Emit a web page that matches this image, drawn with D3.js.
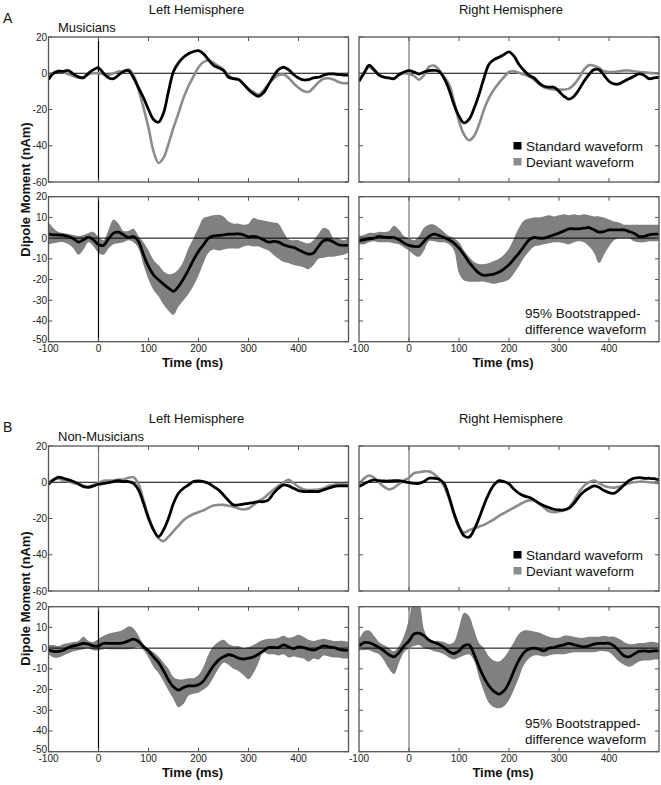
<!DOCTYPE html>
<html><head><meta charset="utf-8">
<script src="https://cdn.jsdelivr.net/npm/d3@7"></script>
<style>body{margin:0;background:#fff} text{font-family:Arial,"Liberation Sans",sans-serif}</style>
</head><body>
<svg id="c" width="661" height="785"></svg>
<script>
// ---------- DATA ----------
const time = d3.range(-100, 501, 10);
const xTickLabels = [-100, 0, 100, 200, 300, 400];
const xTickMarks = [0, 100, 200, 300, 400];
const yTicksWave = [20, 0, -20, -40, -60];
const yTicksDiff = [20, 10, 0, -10, -20, -30, -40, -50];

// A: Musicians
const aLeftStd = [-3.5,0,1,1,1.5,-0.5,-2,-2.5,0,2, 3,0,-2.5,-3,-1,1,1.5,-2.5,-8,-13.5, -20,-25.5,-27,-22,-10,1,5.7,8.8,10.8,12, 12.5,10.7,7.5,4.4,3,1.5,-2.2,-3,-3.5,-5.9, -9,-11.4,-12.7,-10.8,-6.3,-1.7,2,3.3,2,-0.7, -2.6,-3.7,-3.5,-2.5,-2.2,-1.1,-0.4,-0.4,-0.7,-1, -1];
const aLeftDev = [-2,0,1.5,0.5,-0.5,-1.5,-2.5,-2,-0.5,0, 0,-0.5,-1,0,1,1,2,-1,-9,-19, -30,-43,-49.5,-46.7,-39,-30,-22,-13.6,-7,-1.7, 3.3,6.2,7,5.7,3.9,2,-1.1,-3,-3.5,-6, -8.5,-10.3,-11.8,-9.5,-6,-3,-1,-0.7,-2.5,-5.5, -8,-9.8,-10.3,-8,-5,-3,-2.8,-3.5,-4.8,-5.5, -5.5];
const aRightStd = [-4.4,0,4.4,2,-1,-2.2,-2.6,-3,-0.7,0.7, 1.5,0.7,-0.4,0.7,1.5,1.6,1,-2.6,-9,-17.3, -23.7,-27.4,-25.5,-19.5,-11.8,-2.6,5,7.5,8.8,10.3, 11.8,9.4,4.8,1.5,-1.1,-2.6,-5.3,-7.2,-7.7,-7.7, -10,-12.7,-14.3,-12.7,-9,-4.4,-0.7,2,2,-1.1, -4.4,-5.9,-5.9,-4.4,-3,-1.7,-0.4,-1.1,-3,-2.6, -2.2];
const aRightDev = [-3,0,3.5,1.5,-1,-2,-2.5,-3,-1,0, -0.4,-1.5,-3.5,-1,3.5,4.2,2,-2,-6,-15.5, -26.5,-33.8,-37,-34.7,-28.3,-20,-13.6,-9,-5.3,-2.2, 0.7,1.1,0.2,-0.7,-1.7,-3.5,-5.9,-7.7,-8.5,-9, -9,-9,-8.5,-6.2,-2.6,2,4.4,4.2,2.9,1.1, 0.7,0.7,1.1,1.5,1.5,1.1,0.7,0.5,0.2,0, 0];
const aLeftDiff = [1.9,1.6,1.6,1.3,0.8,-0.3,-1.9,-0.8,0.5,-0.8, -3.2,-3.5,-0.3,2.4,2.9,1.6,0.3,0.8,-1.6,-8, -13.7,-17.7,-20.1,-22.2,-24.1,-25.7,-23.3,-19.6,-15.3,-10.5, -6.4,-3.2,0,1.1,1.3,1.6,1.9,1.9,2.1,1.6, 0.6,0.8,0.3,-0.8,-1.9,-1.6,-1.9,-3.2,-4,-4.5, -5.6,-6.8,-7.7,-7.2,-4,-1.3,-0.8,-1.9,-3.2,-3.5, -3.5];
const aLeftHi = [7.7,4.8,3,2.5,2,1.5,1,1.5,2.5,3, 0.5,-1,4,9,7,3.5,3.5,4.5,1,-2, -6,-10.5,-13,-16,-17.4,-17,-15,-11,-4.8,0, 5.1,9.7,10.5,11,11.3,10.5,8,7,7,6.5, 7,9.7,9,8.5,8,7.5,7,3,-0.5,-1, -1,-2,-2.5,-1,2,5,4,0,0,-1, 0];
const aLeftLo = [-3,-2.5,-2,-2,-3,-5,-8,-5.5,-2,-4, -7,-8,-5,-3,-2.5,-2,-1,-2,-5,-13, -20,-25,-28,-32,-35,-37,-33,-30,-27,-23, -18,-12,-7,-5.5,-6,-5.5,-5,-5,-5,-4, -3.5,-4,-4,-5,-6,-8,-10,-11.5,-12,-13, -13.5,-14,-15,-13,-10,-9.5,-9,-9,-8.5,-8, -7];
const aRightDiff = [-1.3,-0.8,-0.3,0,0.8,0.5,0.3,0.3,-0.8,-2.4, -3.5,-4,-4,-1.6,0.8,1.9,1.3,0.3,-0.8,-2.4, -4.8,-8,-11.6,-14.5,-16.9,-18,-17.7,-17.4,-16.4,-14.8, -12.9,-10,-7.2,-4,-0.8,0.3,0,0,0.8,1.6, 2.4,3.5,4.5,4.5,4.5,4.8,5.1,4,2.9,3.2, 4,4,4,4,3.2,2.4,0.8,0.8,1.6,1.9, 1.9];
const aRightHi = [1,1.5,2.5,2.5,3,3,3.5,6,4,1, 0,-1,1,5,6.5,6.5,5,3,1,0, -2,-6,-9,-11.5,-12.5,-12.5,-12,-11,-10,-8, -5,0,5,8.5,9.5,10,10,10.5,11,10.5, 11,11.5,11,11.5,11,11.5,11,10.5,10.5,10, 9,8,7.5,6.5,6.5,6.5,6.5,6.5,6.5,6.5, 6.5];
const aRightLo = [-3,-3,-2,-1.5,-2,-2,-2,-2.5,-3,-4.5, -6,-8,-9,-6,-1.5,-1.5,-2,-2,-3,-6, -17,-20.5,-21,-21,-21,-21,-21.5,-22,-21.5,-21, -20,-17,-13.5,-9.5,-6.5,-4,-3.5,-3,-2.5,-2, -2,-2.5,-3,-2,-1.5,-2,-4,-7,-12,-8, -4,-1,0,0,0,-1.5,-2,-2,-1.5,-1.5, -1.5];

// B: Non-Musicians
const bLeftStd = [-1.1,1.3,2.8,2.2,1.3,0.4,-0.9,-2.4,-2.8,-2, -1.1,-0.6,-0.2,0.4,0.9,0.4,0.4,-0.6,-4.2,-11.6, -19.9,-26.3,-30,-26.3,-19.9,-11.6,-6.1,-3.3,-1.5,0.4, 0.7,0.4,-0.6,-2.4,-4.2,-7,-10.1,-12.5,-12.5,-12.1, -11.6,-11.2,-10.7,-10.7,-9.7,-6.1,-3.3,-1.5,-2,-3.3, -4.6,-5.1,-5.1,-5.1,-5.1,-4.2,-3.3,-2.4,-2,-2, -2];
const bLeftDev = [-0.5,1.5,2,1,0.5,-0.5,-1,-2,-2.5,-1.5, -0.5,0.8,1,1,1.5,1.5,2.5,2.8,-1,-10, -19,-26,-31,-32.5,-30,-27,-24,-21,-19,-17.5, -16.5,-15.5,-14,-12.8,-12.5,-12.5,-13,-13.5,-14.5,-15, -14.5,-12.5,-10.5,-8.8,-6.5,-4.2,-2,-0.2,1.3,-0.5, -2.5,-3.9,-4.3,-4.2,-4,-3.3,-2,-1.5,-1,-1, -1.5];
const bRightStd = [-2.4,-0.9,0.4,1.3,0.9,0.7,0.7,0.9,0.9,0.4, -0.2,-0.6,-0.6,0.4,2.2,2.2,1.7,-0.6,-7.9,-17.1, -24.4,-29.5,-30.3,-26.3,-19.9,-12.5,-6.1,-1.5,0.9,0.4, -0.9,-3.9,-6.1,-7.5,-8.3,-9.7,-11.6,-13,-14,-14.9, -15.3,-15.3,-14.3,-11.6,-7.9,-5.1,-3.3,-2,-2.8,-4.6, -5.7,-6.1,-4.2,-1.5,0.9,2.2,2.6,2.2,2.2,2, 1.3];
const bRightDev = [-1,2,3.7,2.5,0,-2.5,-3.9,-3,-1,1, 2.5,5,5.5,6,6,4.5,2,-2,-9,-18, -25,-27.8,-26.5,-25.5,-24.5,-23.5,-22,-20.5,-18.5,-17, -15.5,-14,-12.5,-11,-10,-10,-11.5,-14,-16,-16.5, -16,-15.5,-14,-10,-5.5,-2,0,0.9,-0.5,-2, -2.8,-3,-2.5,-1.5,-0.5,0,0.3,0.3,0,-0.2, -0.5];
const bLeftDiff = [-1,-1.6,-1.6,-1,0.3,1.1,1.6,2.3,1.9,1.1, 1.1,2.3,2.3,2.3,2.3,2.6,3.5,4.3,3.2,0.8, -1.3,-4.2,-6.9,-10.9,-15.4,-18.7,-20.3,-19,-18.2,-18.2, -17.7,-15.8,-12.2,-8.5,-5.8,-4.2,-3.2,-3.7,-4.8,-5.3, -4.8,-4.2,-2.9,-1.3,0.3,0.3,0.3,1.6,0.6,-0.2, 0.6,0.3,-0.5,-1,0,1.1,0.6,0.3,-0.5,-1, -1];
const bLeftHi = [1.5,1.5,1,2,2.5,3,3.5,5.5,3.5,3, 4.5,6,7,7.5,8,9,10.5,9.5,6,1.8, -0.3,-2,-4,-7,-10,-14,-15,-15,-14.5,-14.5, -13,-9,-3,1,3,4,2,1,1,0, 0.5,1.5,3,4,4.5,4.5,5,6,5,5.5, 6.5,5.5,4,3.5,4,4.5,4,3.5,3.5,3.5, 3];
const bLeftLo = [-3,-4.5,-4.5,-3.5,-2.5,-1.5,-1,-0.5,0,-1, -1,-0.5,-0.5,-0.5,-0.5,-0.5,-0.5,0,0.5,-1, -4.5,-9,-12,-16,-20.5,-24.5,-28.5,-27,-23,-22, -21.5,-20,-18,-14,-10,-7,-8,-10,-11,-13, -15,-12,-7,-2,-3,-3,-3.5,-3,-4.5,-4, -4.5,-5,-6.5,-5,-5.5,-3.5,-4,-4.5,-4.5,-5, -5];
const bRightDiff = [1.1,2.7,2.6,1.6,0.3,-1.3,-3.2,-4.2,-2.1,1.1, 3.5,6.8,7.2,6,3.9,2.7,1.9,0.3,-1.6,-2.6, -1.3,1.1,1.6,-2.9,-9,-14.2,-18.2,-20.9,-22.2,-20.6, -16.6,-10.9,-5.8,-2.1,-0.5,0,-0.5,-1.3,0,0.3, 1.1,1.6,2.3,1.6,1.1,0.6,1.1,1.9,2.3,2.3, 2.3,1.1,-1.3,-3.7,-4.2,-2.9,-1.6,-1.3,-1.6,-1.3, -1.3];
const bRightHi = [4,8,8.5,6,3,1.5,0,-1.5,1,6, 14,24,22,9,4,3.5,3.5,3,2,3, 10,17,15.5,9,2.5,0,-4,-6,-6.5,-4.5, -1,3,7,8.5,8.5,8,7.5,6.5,5.5,5, 5,6,6,5.5,5,5,5.5,5.5,5.5,6, 5.5,5.5,4.5,3,2,2,2.5,2.5,3,3, 2.5];
const bRightLo = [-1,-1,-1,-2,-3,-6,-10,-12.5,-7,-2, 0,1,1.5,0,-0.5,-1.5,-2,-3,-4.5,-5.5, -4.5,-3.5,-3,-6,-14,-21,-26.5,-28.5,-29,-28, -25,-20,-14,-8,-5,-3.5,-3.5,-4,-3.5,-3, -3,-3,-2.5,-2,-2,-2,-2,-2,-1.5,-1.5, -2,-4,-6.5,-8,-9,-8,-6.5,-6,-6,-5.5, -5.5];

const legendLabels = ["Standard waveform", "Deviant waveform"];
const diffLabel = ["95% Bootstrapped-", "difference waveform"];

// ---------- LAYOUT ----------
const svg = d3.select("#c");
const cols = [[48.5, 348.5], [359, 659]];
const rows = { A: [[37, 182], [196.7, 341.7]], B: [[446, 591], [606.7, 751.7]] };
const BLACK = "#000", GRAY = "#8c8c8c", BAND = "#808080", FRAME = "#555";

const panels = [
  { g: "A", r: 0, c: 0, type: "wave", std: aLeftStd, dev: aLeftDev, vline: "#000" },
  { g: "A", r: 0, c: 1, type: "wave", std: aRightStd, dev: aRightDev, vline: "#777", legend: true },
  { g: "A", r: 1, c: 0, type: "diff", m: aLeftDiff, hi: aLeftHi, lo: aLeftLo, vline: "#000" },
  { g: "A", r: 1, c: 1, type: "diff", m: aRightDiff, hi: aRightHi, lo: aRightLo, vline: "#777", note: true },
  { g: "B", r: 0, c: 0, type: "wave", std: bLeftStd, dev: bLeftDev, vline: "#777" },
  { g: "B", r: 0, c: 1, type: "wave", std: bRightStd, dev: bRightDev, vline: "#777", legend: true },
  { g: "B", r: 1, c: 0, type: "diff", m: bLeftDiff, hi: bLeftHi, lo: bLeftLo, vline: "#000" },
  { g: "B", r: 1, c: 1, type: "diff", m: bRightDiff, hi: bRightHi, lo: bRightLo, vline: "#777", note: true },
];

const defs = svg.append("defs");
panels.forEach((p, i) => {
  const [x0, x1] = cols[p.c];
  const [y0, y1] = rows[p.g][p.r];
  const x = d3.scaleLinear().domain([-100, 500]).range([x0, x1]);
  const y = d3.scaleLinear().domain(p.type === "wave" ? [-60, 20] : [-50, 20]).range([y1, y0]);
  const yt = p.type === "wave" ? yTicksWave : yTicksDiff;
  const cid = "clip" + i;
  defs.append("clipPath").attr("id", cid).append("rect")
    .attr("x", x0).attr("y", y0).attr("width", x1 - x0).attr("height", y1 - y0);
  const g = svg.append("g");
  const plot = g.append("g").attr("clip-path", `url(#${cid})`);

  const line = arr => d3.line().x((d, k) => x(time[k])).y(d => y(d)).curve(d3.curveCatmullRom)(arr);

  if (p.type === "diff") {
    const area = d3.area().x((d, k) => x(time[k])).y0((d, k) => y(p.lo[k])).y1((d, k) => y(p.hi[k])).curve(d3.curveCatmullRom);
    plot.append("path").attr("d", area(p.m)).attr("fill", BAND);
  }
  // zero lines
  plot.append("line").attr("x1", x0).attr("x2", x1).attr("y1", y(0)).attr("y2", y(0)).attr("stroke", "#000").attr("stroke-width", 1);
  plot.append("line").attr("x1", x(0)).attr("x2", x(0)).attr("y1", y0).attr("y2", y1).attr("stroke", p.vline).attr("stroke-width", 1.2);

  if (p.type === "wave") {
    plot.append("path").attr("d", line(p.dev)).attr("fill", "none").attr("stroke", GRAY).attr("stroke-width", 2.6).attr("stroke-linejoin", "round");
    plot.append("path").attr("d", line(p.std)).attr("fill", "none").attr("stroke", BLACK).attr("stroke-width", 2.8).attr("stroke-linejoin", "round");
  } else {
    plot.append("path").attr("d", line(p.m)).attr("fill", "none").attr("stroke", BLACK).attr("stroke-width", 2.8).attr("stroke-linejoin", "round");
  }

  // frame
  g.append("rect").attr("x", x0).attr("y", y0).attr("width", x1 - x0).attr("height", y1 - y0)
    .attr("fill", "none").attr("stroke", FRAME).attr("stroke-width", 1.3);

  // ticks inward
  const tl = 4;
  xTickMarks.forEach(t => {
    g.append("line").attr("x1", x(t)).attr("x2", x(t)).attr("y1", y1).attr("y2", y1 - tl).attr("stroke", FRAME);
    g.append("line").attr("x1", x(t)).attr("x2", x(t)).attr("y1", y0).attr("y2", y0 + tl).attr("stroke", FRAME);
  });
  yt.forEach(v => {
    g.append("line").attr("x1", x0).attr("x2", x0 + tl).attr("y1", y(v)).attr("y2", y(v)).attr("stroke", FRAME);
    g.append("line").attr("x1", x1).attr("x2", x1 - tl).attr("y1", y(v)).attr("y2", y(v)).attr("stroke", FRAME);
  });
  // y labels (left column only)
  if (p.c === 0) {
    yt.forEach(v => {
      const isBottom = (p.type === "diff" && v === -50);
      g.append("text").attr("x", x0 - 1.5).attr("y", y(v) + (isBottom ? 1 : 3.5)).attr("text-anchor", "end")
        .attr("font-size", 10).attr("fill", "#222").text(v);
    });
  }
  // x labels on diff panels
  if (p.type === "diff") {
    xTickLabels.forEach(t => {
      g.append("text").attr("x", x(t)).attr("y", y1 + 10.5).attr("text-anchor", "middle")
        .attr("font-size", 10).attr("fill", "#222").text(t);
    });
    g.append("text").attr("x", (x0 + x1) / 2 - 6).attr("y", y1 + 25.5).attr("text-anchor", "middle")
      .attr("font-size", 13).attr("font-weight", "bold").attr("fill", "#111").text("Time (ms)");
  }
  if (p.legend) {
    [BLACK, GRAY].forEach((col, k) => {
      g.append("rect").attr("x", x0 + 154.5).attr("y", y0 + 105 + k * 16).attr("width", 8).attr("height", 7.5).attr("fill", col);
      g.append("text").attr("x", x0 + 167).attr("y", y0 + 113.5 + k * 16).attr("font-size", 13.5).attr("fill", "#111").text(legendLabels[k]);
    });
  }
  if (p.note) {
    diffLabel.forEach((s, k) => {
      g.append("text").attr("x", x0 + 166).attr("y", y0 + 121.5 + k * 16).attr("font-size", 13.5).attr("fill", "#111").text(s);
    });
  }
});

// titles
const titles = [
  { letter: "A", group: "Musicians", base: 0 },
  { letter: "B", group: "Non-Musicians", base: 409 },
];
titles.forEach(t => {
  svg.append("text").attr("x", 3).attr("y", 23 + t.base).attr("font-size", 14).attr("fill", "#111").text(t.letter);
  svg.append("text").attr("x", 196.5).attr("y", 14 + t.base).attr("text-anchor", "middle").attr("font-size", 13).attr("fill", "#111").text("Left Hemisphere");
  svg.append("text").attr("x", 511).attr("y", 14 + t.base).attr("text-anchor", "middle").attr("font-size", 13).attr("fill", "#111").text("Right Hemisphere");
  svg.append("text").attr("x", 58).attr("y", 32 + t.base).attr("font-size", 13).attr("fill", "#111").text(t.group);
  svg.append("text").attr("transform", `translate(30,${189.5 + t.base}) rotate(-90)`).attr("text-anchor", "middle")
    .attr("font-size", 13).attr("font-weight", "bold").attr("fill", "#111").text("Dipole Moment (nAm)");
});
</script>
</body></html>
